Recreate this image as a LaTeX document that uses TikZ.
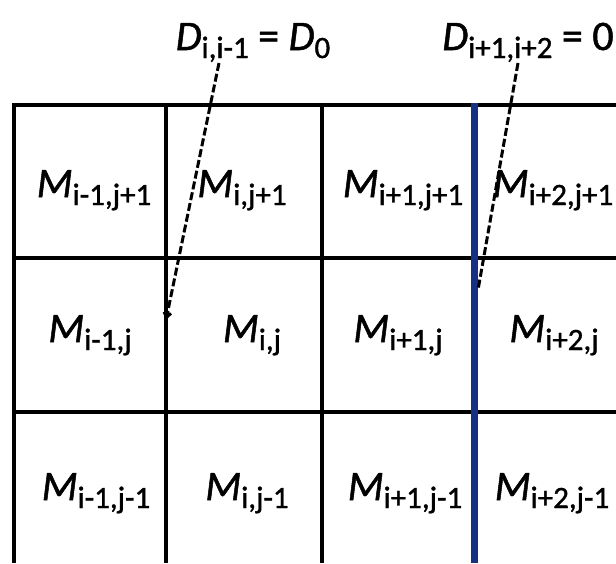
\documentclass[tikz,border=0pt]{standalone}
\usepackage{fontspec}
\setmainfont[FakeBold=1.2,AutoFakeBold=1.2]{Carlito}
\usetikzlibrary{arrows.meta}
\definecolor{gridblue}{RGB}{22,48,132}
\newcommand\msub[2]{\textit{#1}\raisebox{-8pt}{\fontsize{31}{31}\selectfont #2}}
\begin{document}
\begin{tikzpicture}[x=1pt,y=-1pt,
  gridline/.style={line width=4pt,black},
  bluegrid/.style={line width=7pt,gridblue},
  cell/.style={font=\fontsize{42}{42}\selectfont\bfseries,anchor=base,inner sep=0pt},
  lbl/.style={font=\fontsize{42}{42}\selectfont\bfseries,anchor=base,inner sep=0pt},
  leader/.style={line width=3pt,dash pattern=on 8pt off 3pt}]
\useasboundingbox (0,0) rectangle (616,563);
\fill[white] (0,0) rectangle (616,563);
% grid
\draw[gridline] (14,563) -- (14,105) -- (616,105);
\draw[gridline] (166,105) -- (166,563);
\draw[gridline] (322,105) -- (322,563);
\draw[gridline] (14,258) -- (616,258);
\draw[gridline] (14,412) -- (616,412);
\draw[bluegrid] (474,103) -- (474,563);
% cells
\node[cell] (m11) at (94,197) {\msub{M}{i-1,j+1}};
\node[cell] (m12) at (242,197) {\msub{M}{i,j+1}};
\node[cell] (m13) at (403,197) {\msub{M}{i+1,j+1}};
\node[cell] (m14) at (553,197) {\msub{M}{i+2,j+1}};
\node[cell] (m21) at (90,342) {\msub{M}{i-1,j}};
\node[cell] (m22) at (252,342) {\msub{M}{i,j}};
\node[cell] (m23) at (398,342) {\msub{M}{i+1,j}};
\node[cell] (m24) at (554,342) {\msub{M}{i+2,j}};
\node[cell] (m31) at (96,500) {\msub{M}{i-1,j-1}};
\node[cell] (m32) at (247,500) {\msub{M}{i,j-1}};
\node[cell] (m33) at (405,500) {\msub{M}{i+1,j-1}};
\node[cell] (m34) at (552,500) {\msub{M}{i+2,j-1}};
% labels
\node[lbl] (d1) at (253,50) {\msub{D}{i,i-1} = \msub{D}{0}};
\node[lbl] (d2) at (528,50) {\msub{D}{i+1,i+2} = 0};
% leaders
\coordinate (s1) at (219,63);
\coordinate (e1) at (166,320);
\coordinate (s2) at (518,63);
\coordinate (e2) at (478,290);
\draw[leader,-{Straight Barb[length=5pt,width=7pt]}] (s1) -- (e1);
\draw[leader] (s2) -- (e2);
\end{tikzpicture}
\end{document}
